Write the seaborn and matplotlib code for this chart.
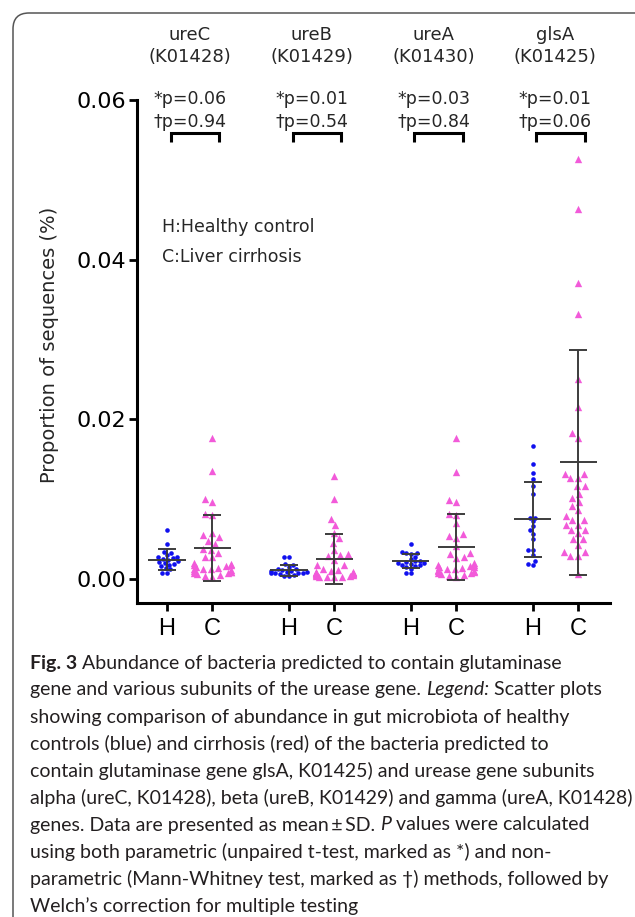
import numpy as np
import pandas as pd
import seaborn as sns
import matplotlib.pyplot as plt
from matplotlib.patches import FancyBboxPatch

# ---- data -----------------------------------------------------------------
genes = ["ureC", "ureB", "ureA", "glsA"]
ko_ids = ["K01428", "K01429", "K01430", "K01425"]
group_labels = ["H", "C"]
t_test_p = ["0.06", "0.01", "0.03", "0.01"]
mann_whitney_p = ["0.94", "0.54", "0.84", "0.06"]

healthy_ureC = [0.0061, 0.0044, 0.0034, 0.0033, 0.0030, 0.0028, 0.0027, 0.0026, 0.0025, 0.0024,
                0.0022, 0.0021, 0.0020, 0.0019, 0.0018, 0.0016, 0.0014, 0.0012, 0.0008, 0.0008]
cirrhosis_ureC = [0.0177, 0.0135, 0.0100, 0.0097, 0.0082, 0.0080, 0.0058, 0.0055, 0.0052, 0.0048,
                  0.0044, 0.0037, 0.0036, 0.0033, 0.0028, 0.0027, 0.0020, 0.0019, 0.0018, 0.0017,
                  0.0016, 0.0015, 0.0014, 0.0013, 0.0012, 0.0012, 0.0011, 0.0010, 0.0009, 0.0009,
                  0.0008, 0.0007, 0.0006, 0.0005, 0.0004, 0.0003]
healthy_ureB = [0.0028, 0.0027, 0.0019, 0.0018, 0.0015, 0.0013, 0.0012, 0.0011, 0.0010, 0.0010,
                0.0009, 0.0009, 0.0008, 0.0008, 0.0007, 0.0007, 0.0006, 0.0005, 0.0004, 0.0004]
cirrhosis_ureB = [0.0129, 0.0100, 0.0075, 0.0067, 0.0058, 0.0051, 0.0045, 0.0036, 0.0031, 0.0030,
                  0.0029, 0.0024, 0.0018, 0.0017, 0.0012, 0.0011, 0.0010, 0.0009, 0.0009, 0.0008,
                  0.0008, 0.0007, 0.0007, 0.0006, 0.0006, 0.0005, 0.0005, 0.0004, 0.0004, 0.0003,
                  0.0003, 0.0002, 0.0002]
healthy_ureA = [0.0044, 0.0034, 0.0033, 0.0032, 0.0031, 0.0028, 0.0025, 0.0023, 0.0022, 0.0021,
                0.0020, 0.0020, 0.0019, 0.0018, 0.0017, 0.0016, 0.0015, 0.0013, 0.0008, 0.0007]
cirrhosis_ureA = [0.0176, 0.0134, 0.0099, 0.0097, 0.0082, 0.0080, 0.0070, 0.0056, 0.0054, 0.0051,
                  0.0041, 0.0033, 0.0031, 0.0028, 0.0026, 0.0020, 0.0018, 0.0017, 0.0016, 0.0015,
                  0.0015, 0.0014, 0.0013, 0.0012, 0.0011, 0.0010, 0.0010, 0.0009, 0.0008, 0.0007,
                  0.0006, 0.0005, 0.0004, 0.0003]
healthy_glsA = [0.0167, 0.0144, 0.0133, 0.0125, 0.0116, 0.0107, 0.0077, 0.0077, 0.0072, 0.0066,
                0.0061, 0.0056, 0.0050, 0.0036, 0.0036, 0.0030, 0.0023, 0.0019, 0.0018]
cirrhosis_glsA = [0.0526, 0.0464, 0.0371, 0.0332, 0.0251, 0.0216, 0.0183, 0.0177, 0.0132, 0.0132,
                  0.0126, 0.0126, 0.0116, 0.0116, 0.0107, 0.0102, 0.0097, 0.0092, 0.0086, 0.0079,
                  0.0074, 0.0074, 0.0068, 0.0068, 0.0061, 0.0061, 0.0057, 0.0050, 0.0050, 0.0043,
                  0.0034, 0.0034, 0.0029, 0.0029, 0.0006]

# reported mean and SD of each group
healthy_mean = [0.0024, 0.0011, 0.00225, 0.0075]
healthy_sd = [0.0013, 0.0007, 0.00087, 0.0047]
cirrhosis_mean = [0.0039, 0.0025, 0.0040, 0.0146]
cirrhosis_sd = [0.0041, 0.0031, 0.0041, 0.0141]

healthy_values = [healthy_ureC, healthy_ureB, healthy_ureA, healthy_glsA]
cirrhosis_values = [cirrhosis_ureC, cirrhosis_ureB, cirrhosis_ureA, cirrhosis_glsA]

caption_lines = [
    [("Fig. 3", "bold"), (" Abundance of bacteria predicted to contain glutaminase", "normal")],
    [("gene and various subunits of the urease gene. ", "normal"), ("Legend:", "italic"),
     (" Scatter plots", "normal")],
    [("showing comparison of abundance in gut microbiota of healthy", "normal")],
    [("controls (blue) and cirrhosis (red) of the bacteria predicted to", "normal")],
    [("contain glutaminase gene glsA, K01425) and urease gene subunits", "normal")],
    [("alpha (ureC, K01428), beta (ureB, K01429) and gamma (ureA, K01428)", "normal")],
    [("genes. Data are presented as mean\u2009±\u2009SD. ", "normal"), ("P", "italic"),
     (" values were calculated", "normal")],
    [("using both parametric (unpaired t-test, marked as *) and non-", "normal")],
    [("parametric (Mann-Whitney test, marked as \u2020) methods, followed by", "normal")],
    [("Welch\u2019s correction for multiple testing", "normal")],
]

# ---- layout ---------------------------------------------------------------
W, H = 635, 917
GROUP_STEP = 2.68
h_pos = [i * GROUP_STEP for i in range(len(genes))]
c_pos = [p + 1.0 for p in h_pos]
pair_center = [p + 0.5 for p in h_pos]

BLUE = "#1010ee"
PINK = "#f25ad9"
BAR = "#3c3c3c"

rows = []
for g, hv, cv, hp, cp in zip(genes, healthy_values, cirrhosis_values, h_pos, c_pos):
    rows += [dict(gene=g, group="H", pos=hp, value=v) for v in hv]
    rows += [dict(gene=g, group="C", pos=cp, value=v) for v in cv]
df = pd.DataFrame(rows)

sns.set_theme(style="ticks")
plt.rcParams["font.family"] = ["DejaVu Sans"]

fig = plt.figure(figsize=(W / 100, H / 100), dpi=100)
fig.patch.set_facecolor("white")
ax = fig.add_axes([137 / W, 1 - 603 / H, 473 / W, 503 / H])
ax.set_facecolor("white")

# one swarm per gene/group so each keeps a narrow footprint around its tick
marker_style = {"H": dict(color=BLUE, size=3.3, marker="o"),
                "C": dict(color=PINK, size=5.3, marker="^")}
for (g, grp), sub in df.groupby(["gene", "group"], sort=False):
    sns.swarmplot(data=sub, x="pos", y="value", native_scale=True, orient="x",
                  linewidth=0, ax=ax, zorder=3, warn_thresh=1.0, **marker_style[grp])

# mean line with SD whiskers
for pos, means, sds in ((h_pos, healthy_mean, healthy_sd), (c_pos, cirrhosis_mean, cirrhosis_sd)):
    for x, m, s in zip(pos, means, sds):
        ax.errorbar(x, m, yerr=s, fmt="none", ecolor=BAR, elinewidth=1.4,
                    capsize=6.8, capthick=1.4, zorder=5)
        ax.hlines(m, x - 0.41, x + 0.41, color=BAR, lw=1.4, zorder=5)

ax.set_xlim(-0.66, 9.74)
ax.set_ylim(-0.00301, 0.06)
for side in ("top", "right"):
    ax.spines[side].set_visible(False)
for side in ("left", "bottom"):
    ax.spines[side].set_linewidth(2.2)
    ax.spines[side].set_color("black")

ax.set_yticks([0.0, 0.02, 0.04, 0.06])
ax.set_yticklabels(["0.00", "0.02", "0.04", "0.06"])
ax.tick_params(axis="y", length=6, width=2.0, pad=2, labelsize=16, colors="black")
ticks = sorted(h_pos + c_pos)
ax.set_xticks(ticks)
ax.set_xticklabels(group_labels * len(genes), fontfamily="Liberation Sans", fontsize=17)
ax.tick_params(axis="x", length=6, width=2.0, pad=5, colors="black")
ax.set_xlabel("")
ax.set_ylabel("")

fig.text(50 / W, 1 - 345 / H, "Proportion of sequences (%)", rotation=90,
         ha="center", va="center", fontsize=14)

trans = ax.get_xaxis_transform()


def fy(py):
    # pixel row -> axes fraction
    return (603 - py) / 503


for xc, g, ko, pt, pm, hp, cp in zip(pair_center, genes, ko_ids, t_test_p, mann_whitney_p, h_pos, c_pos):
    ax.text(xc, fy(35), g, transform=trans, ha="center", va="center", fontsize=13, clip_on=False)
    ax.text(xc, fy(57), f"({ko})", transform=trans, ha="center", va="center", fontsize=13, clip_on=False)
    ax.text(xc, fy(99), f"*p={pt}", transform=trans, ha="center", va="center", fontsize=12.5, clip_on=False)
    ax.text(xc, fy(122), f"\u2020p={pm}", transform=trans, ha="center", va="center", fontsize=12.5, clip_on=False)
    bx = [hp + 0.08, hp + 0.08, cp + 0.15, cp + 0.15]
    by = [fy(142), fy(133.5), fy(133.5), fy(142)]
    ax.plot(bx, by, transform=trans, color="black", lw=2.2, clip_on=False,
            solid_joinstyle="miter", solid_capstyle="butt")

ax.text(-0.12, fy(227), "H:Healthy control", transform=trans, ha="left", va="center", fontsize=12.5)
ax.text(-0.12, fy(257), "C:Liver cirrhosis", transform=trans, ha="left", va="center", fontsize=12.5)

# ---- caption --------------------------------------------------------------
renderer = fig.canvas.get_renderer()
CAP_FONT = ["Lato", "DejaVu Sans"]
CAP_SIZE = 14.0


def run_width(s, style):
    kw = dict(fontsize=CAP_SIZE, family=CAP_FONT)
    if style == "bold":
        kw["fontweight"] = "bold"
    if style == "italic":
        kw["fontstyle"] = "italic"
    a = fig.text(0, 0, "x" + s + "x", **kw)
    b = fig.text(0, 0, "xx", **kw)
    w = a.get_window_extent(renderer).width - b.get_window_extent(renderer).width
    a.remove()
    b.remove()
    return w, kw


for i, line in enumerate(caption_lines):
    py = 663 + i * 27.0
    px = 30.0
    for s, style in line:
        w, kw = run_width(s, style)
        fig.text(px / W, 1 - py / H, s, ha="left", va="center", color="#231f20", **kw)
        px += w

frame = FancyBboxPatch((0.13, -0.4), 6.40, 9.04 + 0.4,
                       boxstyle="round,pad=0,rounding_size=0.16",
                       transform=fig.dpi_scale_trans, fill=False,
                       edgecolor="#555555", lw=1.1)
fig.add_artist(frame)

fig.savefig("out.png", dpi=100, facecolor="white")
